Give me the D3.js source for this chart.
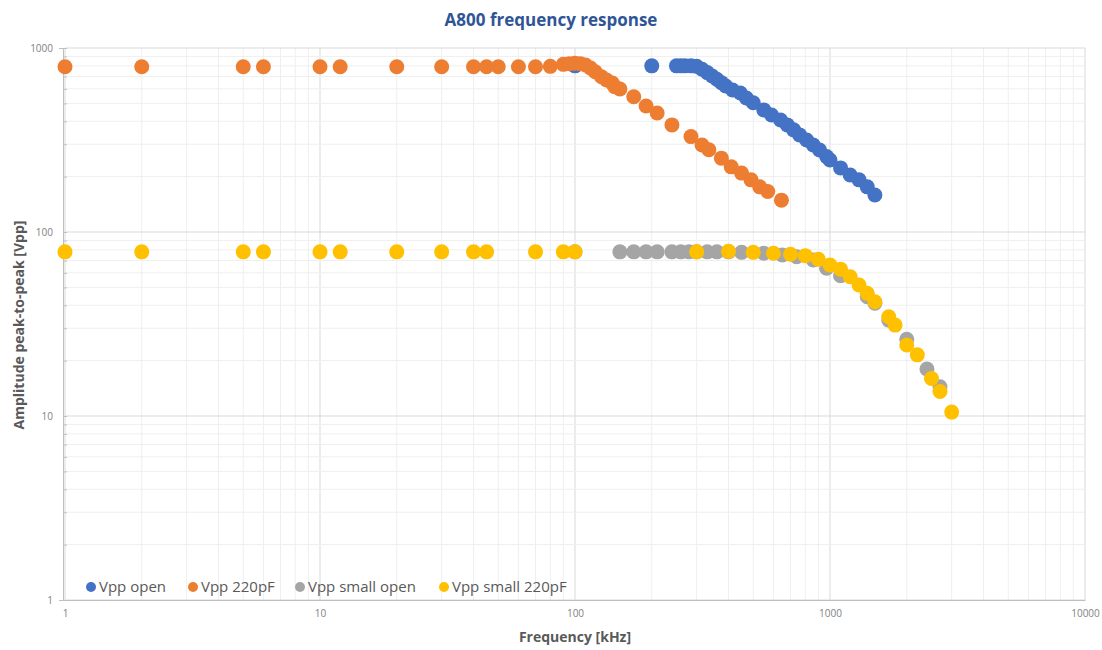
<!DOCTYPE html>
<meta charset="utf-8">
<html>
    <head>
        <style>
            body { margin: 0; background: #fff; }
            text { font-family: "Open Sans", sans-serif; }
        </style>
        <script src="https://d3js.org/d3.v7.min.js"></script>
    </head>
    <body>
        <script>

            // Data: [frequency kHz, amplitude Vpp]
            var vppOpen = [
                [100, 800], [200, 800], [250, 800], [260, 800], [270, 800], [285, 800], [300, 795],
                [315, 766], [330, 735], [345, 705], [360, 676], [375, 648], [390, 621], [415, 591],
                [445, 569], [470, 535], [500, 504], [550, 461], [590, 432], [640, 406], [680, 382],
                [720, 359], [760, 337], [810, 316], [860, 297], [910, 279], [970, 257], [1000, 246],
                [1100, 223], [1200, 204], [1300, 192], [1400, 176], [1500, 159]
            ];
            var vpp220 = [
                [1, 791], [2, 791], [5, 791], [6, 791], [10, 791], [12, 791], [20, 791], [30, 791],
                [40, 791], [45, 791], [50, 791], [60, 791], [70, 791], [80, 795], [90, 815],
                [95, 822], [100, 826], [105, 822], [110, 809], [115, 778], [120, 743], [127, 698],
                [133, 670], [140, 645], [143, 617], [150, 599], [170, 543], [190, 484], [210, 443],
                [240, 382], [285, 330], [315, 297], [335, 280], [375, 252], [410, 226], [450, 209],
                [490, 192], [530, 176], [570, 166], [645, 149]
            ];
            var vppSmallOpen = [
                [100, 78], [150, 78], [170, 78], [190, 78], [210, 78], [240, 78], [260, 78],
                [280, 78], [300, 78], [330, 78], [360, 78], [400, 78], [450, 77.5], [550, 76.6],
                [650, 75], [740, 73.4], [860, 70.4], [970, 63.5], [1100, 57.8], [1400, 44.5],
                [1500, 41], [1700, 33.2], [2000, 26.1], [2400, 18], [2700, 14.4]
            ];
            var vppSmall220 = [
                [1, 78], [2, 78], [5, 78], [6, 78], [10, 78], [12, 78], [20, 78], [30, 78],
                [40, 78], [45, 78], [70, 78], [90, 78], [100, 78], [300, 78], [400, 78.5],
                [500, 77.5], [600, 76.6], [700, 75.7], [800, 74.4], [900, 71], [1000, 66.2],
                [1100, 62.8], [1200, 57.1], [1300, 51.5], [1400, 46.4], [1500, 41.8], [1700, 34.6],
                [1800, 31.2], [2000, 24.3], [2200, 21.5], [2500, 16], [2700, 13.6], [3000, 10.5]
            ];

            var seriesNames = ["Vpp open", "Vpp 220pF", "Vpp small open", "Vpp small 220pF"];
            var seriesData = [vppOpen, vpp220, vppSmallOpen, vppSmall220];
            var seriesColors = ["#4472C4", "#ED7D31", "#A5A5A5", "#FFC000"];

            var xDomain = [1, 10000];
            var yDomain = [1, 1000];

            var width = 1102, height = 650;
            var plot = {left: 65, right: 1085, top: 48, bottom: 600};

            var svg = d3.select("body")
                .append("svg")
                .attr("width", width)
                .attr("height", height);

            var x = d3.scaleLog().domain(xDomain).range([plot.left, plot.right]);
            var y = d3.scaleLog().domain(yDomain).range([plot.bottom, plot.top]);

            var isMajor = function(d) { return Math.abs(Math.log10(d) - Math.round(Math.log10(d))) < 1e-9; };

            // Gridlines (minor and major)
            var grid = svg.append("g").attr("class", "grid");
            grid.selectAll(".xg")
                .data(x.ticks())
                .enter().append("line")
                .attr("x1", function(d) { return x(d); })
                .attr("x2", function(d) { return x(d); })
                .attr("y1", plot.top)
                .attr("y2", plot.bottom)
                .attr("stroke", function(d) { return isMajor(d) ? "#d9d9d9" : "#efefef"; })
                .attr("stroke-width", 1);
            grid.selectAll(".yg")
                .data(y.ticks())
                .enter().append("line")
                .attr("x1", plot.left)
                .attr("x2", plot.right)
                .attr("y1", function(d) { return y(d); })
                .attr("y2", function(d) { return y(d); })
                .attr("stroke", function(d) { return isMajor(d) ? "#d9d9d9" : "#efefef"; })
                .attr("stroke-width", 1);

            // Axes
            var xAxis = d3.axisBottom(x)
                .tickValues(x.ticks().filter(isMajor))
                .tickFormat(d3.format("d"))
                .tickSize(0)
                .tickPadding(10);
            var yAxis = d3.axisLeft(y)
                .tickValues(y.ticks())
                .tickFormat(function(d) { return isMajor(d) ? d3.format("d")(d) : ""; })
                .tickSize(4)
                .tickPadding(6);

            var gx = svg.append("g")
                .attr("transform", "translate(0," + plot.bottom + ")")
                .call(xAxis);
            var gy = svg.append("g")
                .attr("transform", "translate(" + (plot.left - 2) + ",0)")
                .call(yAxis);

            [gx, gy].forEach(function(g) {
                g.select(".domain").attr("stroke", "#bfbfbf");
                g.selectAll(".tick line").attr("stroke", "#bfbfbf").attr("transform", "translate(4,0)");
                g.selectAll(".tick text")
                    .attr("fill", "#7f7f7f")
                    .style("font-size", "10px")
                    .style("font-family", "'Open Sans', sans-serif");
            });
            gx.selectAll(".tick line").attr("transform", null);

            // Points
            seriesData.forEach(function(data, i) {
                svg.append("g")
                    .selectAll("circle")
                    .data(data)
                    .enter().append("circle")
                    .attr("cx", function(d) { return x(d[0]); })
                    .attr("cy", function(d) { return y(d[1]); })
                    .attr("r", 7.5)
                    .attr("fill", seriesColors[i]);
            });

            // Title
            svg.append("text")
                .attr("x", 551)
                .attr("y", 26)
                .attr("text-anchor", "middle")
                .attr("fill", "#2F5597")
                .attr("font-weight", "bold")
                .style("font-size", "17px")
                .text("A800 frequency response");

            // Axis titles
            svg.append("text")
                .attr("x", 575)
                .attr("y", 642)
                .attr("text-anchor", "middle")
                .attr("fill", "#595959")
                .attr("font-weight", "bold")
                .style("font-size", "14px")
                .text("Frequency [kHz]");

            svg.append("text")
                .attr("transform", "translate(24,325) rotate(-90)")
                .attr("text-anchor", "middle")
                .attr("fill", "#595959")
                .attr("font-weight", "bold")
                .style("font-size", "14px")
                .text("Amplitude peak-to-peak [Vpp]");

            // Legend
            var legendX = [91, 193, 300, 444];
            var legend = svg.append("g").attr("class", "legend");
            seriesNames.forEach(function(name, i) {
                legend.append("circle")
                    .attr("cx", legendX[i])
                    .attr("cy", 587)
                    .attr("r", 5)
                    .attr("fill", seriesColors[i]);
                legend.append("text")
                    .attr("x", legendX[i] + 8)
                    .attr("y", 592)
                    .attr("fill", "#595959")
                    .style("font-size", "15px")
                    .text(name);
            });

        </script>
    </body>
</html>
